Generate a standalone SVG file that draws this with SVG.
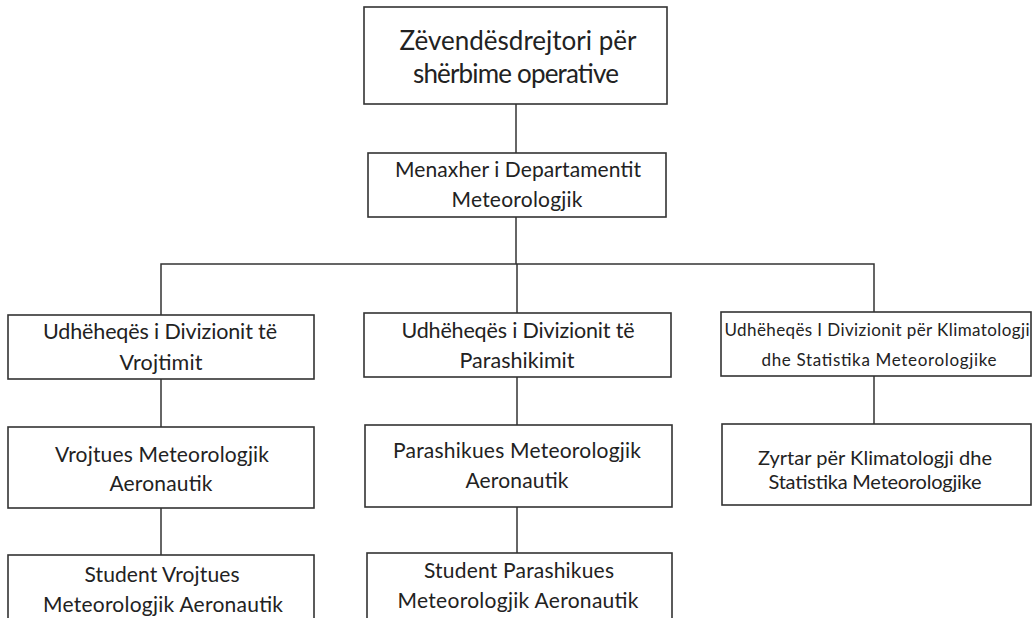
<svg xmlns="http://www.w3.org/2000/svg" width="1033" height="618" viewBox="0 0 1033 618">
  <style>
    .box { fill: #ffffff; stroke: #333333; stroke-width: 1.6; }
    .link { fill: none; stroke: #333333; stroke-width: 1.5; }
    text { font-family: "Lato", "Open Sans", "Liberation Sans", sans-serif; fill: #222222; text-anchor: middle; }
    .t-top { font-size: 26px; }
    .t-mid { font-size: 21px; }
    .t-l3 { font-size: 21.5px; }
    .t-small { font-size: 17px; }
    .t-r4 { font-size: 20px; }
  </style>
  <rect width="1033" height="618" fill="#ffffff"/>

  <!-- connectors -->
  <g id="connectors">
    <line class="link" x1="516" y1="104" x2="516" y2="153"/>
    <line class="link" x1="516" y1="217" x2="516" y2="264"/>
    <polyline class="link" points="161,315 161,264 874,264 874,312"/>
    <line class="link" x1="517" y1="264" x2="517" y2="313"/>
    <line class="link" x1="161" y1="379" x2="161" y2="427"/>
    <line class="link" x1="517" y1="377" x2="517" y2="425"/>
    <line class="link" x1="874" y1="376" x2="874" y2="424"/>
    <line class="link" x1="161" y1="508" x2="161" y2="555"/>
    <line class="link" x1="517" y1="507" x2="517" y2="553"/>
  </g>

  <!-- level 1 -->
  <g id="node-zevendesdrejtori">
    <rect class="box" x="364" y="7" width="303" height="97"/>
    <text class="t-top" x="518" y="50" textLength="237">Zëvendësdrejtori për</text>
    <text class="t-top" x="516" y="83" textLength="206">shërbime operative</text>
  </g>

  <!-- level 2 -->
  <g id="node-menaxher">
    <rect class="box" x="368" y="153" width="298" height="64"/>
    <text class="t-mid" x="518" y="177" textLength="246">Menaxher i Departamentit</text>
    <text class="t-mid" x="517" y="207" textLength="131">Meteorologjik</text>
  </g>

  <!-- level 3 -->
  <g id="node-div-vrojtimit">
    <rect class="box" x="8" y="315" width="306" height="64"/>
    <text class="t-l3" x="160" y="339" textLength="234">Udhëheqës i Divizionit të</text>
    <text class="t-l3" x="161" y="370" textLength="83">Vrojtimit</text>
  </g>
  <g id="node-div-parashikimit">
    <rect class="box" x="364" y="313" width="307" height="64"/>
    <text class="t-l3" x="518" y="338" textLength="233">Udhëheqës i Divizionit të</text>
    <text class="t-l3" x="517" y="368" textLength="115">Parashikimit</text>
  </g>
  <g id="node-div-klimatologji">
    <rect class="box" x="721" y="312" width="310" height="64"/>
    <text class="t-small" x="877" y="336" textLength="305">Udhëheqës I Divizionit për Klimatologji</text>
    <text class="t-small" x="879" y="366" textLength="235">dhe Statistika Meteorologjike</text>
  </g>

  <!-- level 4 -->
  <g id="node-vrojtues">
    <rect class="box" x="8" y="427" width="306" height="81"/>
    <text class="t-mid" x="162" y="462" textLength="214">Vrojtues Meteorologjik</text>
    <text class="t-mid" x="161" y="491" textLength="103">Aeronautik</text>
  </g>
  <g id="node-parashikues">
    <rect class="box" x="365" y="425" width="307" height="82"/>
    <text class="t-mid" x="517" y="458" textLength="248">Parashikues Meteorologjik</text>
    <text class="t-mid" x="517" y="488" textLength="103">Aeronautik</text>
  </g>
  <g id="node-zyrtar">
    <rect class="box" x="722" y="424" width="309" height="81"/>
    <text class="t-r4" x="875" y="465" textLength="234">Zyrtar për Klimatologji dhe</text>
    <text class="t-r4" x="875" y="489" textLength="213">Statistika Meteorologjike</text>
  </g>

  <!-- level 5 -->
  <g id="node-student-vrojtues">
    <rect class="box" x="8" y="555" width="306" height="70"/>
    <text class="t-mid" x="162" y="582" textLength="155">Student Vrojtues</text>
    <text class="t-mid" x="163" y="612" textLength="240">Meteorologjik Aeronautik</text>
  </g>
  <g id="node-student-parashikues">
    <rect class="box" x="367" y="553" width="305" height="72"/>
    <text class="t-mid" x="519" y="578" textLength="190">Student Parashikues</text>
    <text class="t-mid" x="518" y="608" textLength="241">Meteorologjik Aeronautik</text>
  </g>
</svg>
